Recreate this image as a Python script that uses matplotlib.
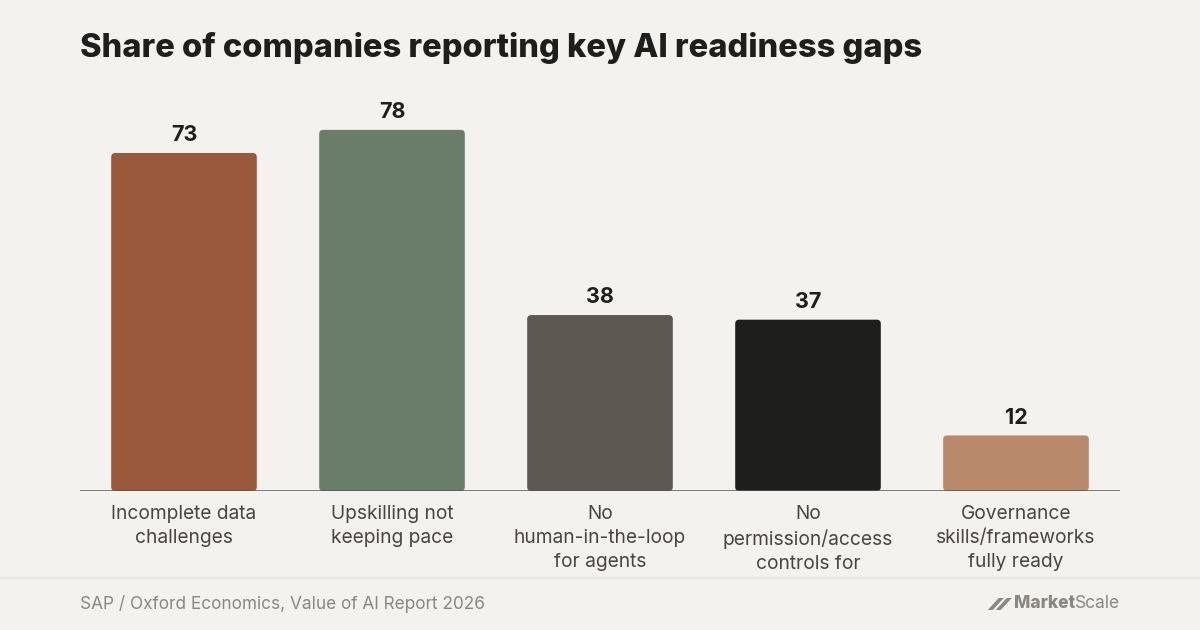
import matplotlib
matplotlib.use("Agg")
import matplotlib.pyplot as plt
from matplotlib.patches import FancyBboxPatch, Polygon
from matplotlib.lines import Line2D

categories = ["Incomplete data\nchallenges", "Upskilling not\nkeeping pace",
              "No\nhuman-in-the-loop\nfor agents", "No\npermission/access\ncontrols for",
              "Governance\nskills/frameworks\nfully ready"]
values = [73, 78, 38, 37, 12]
colors = ["#9a593c", "#6a7c6a", "#5d5851", "#1e1e1c", "#b8896b"]

title = "Share of companies reporting key AI readiness gaps"
source = "SAP / Oxford Economics, Value of AI Report 2026"

BG = "#f4f2ee"
W, H = 1200, 630
fig = plt.figure(figsize=(12, 6.3), dpi=100, facecolor=BG)
plt.rcParams['font.family'] = ['Inter', 'DejaVu Sans']

# axes: x 80..1120 px, baseline at y=491 px, 4.63 px per unit
left, right = 80, 1120
base_y = 491
top_y = 100
ppu = 4.63
ymax = (base_y - top_y) / ppu
ax = fig.add_axes([left / W, (H - base_y) / H, (right - left) / W, (base_y - top_y) / H])
ax.set_facecolor(BG)
ax.set_xlim(-0.5, len(values) - 0.5)
ax.set_ylim(0, ymax)
for s in ax.spines.values():
    s.set_visible(False)
ax.set_yticks([])
ax.set_xticks(range(len(values)))
ax.set_xticklabels(categories, fontsize=13.8, color="#4a4540", linespacing=1.42)
ax.tick_params(axis='x', length=0, pad=10)

bw = 0.70
xpx_per_unit = (right - left) / len(values)
aspect = xpx_per_unit / ppu
r = 4 / xpx_per_unit
bars = ax.bar(range(len(values)), values, width=bw, color="none")
for b, c in zip(bars, colors):
    p = FancyBboxPatch((b.get_x(), b.get_y()), b.get_width(), b.get_height(),
                       boxstyle=f"round,pad=0,rounding_size={r}",
                       mutation_aspect=aspect, facecolor=c, edgecolor="none", zorder=2)
    ax.add_patch(p)
    ax.text(b.get_x() + b.get_width() / 2, b.get_height() + 14 / ppu * 0.55,
            f"{int(b.get_height())}", ha="center", va="bottom",
            fontsize=15.5, fontweight="bold", color="#1e1e1c")
ax.axhline(0, color="#5a5550", lw=1.8, zorder=3)

fig.text(80 / W, 1 - 48 / H, title, fontsize=23.5, fontweight="heavy",
         color="#1e1e1c", ha="left", va="center")

fig.add_artist(Line2D([0, 1], [1 - 578 / H] * 2, color="#e7e4df", lw=1.5,
                      transform=fig.transFigure))
fig.text(80 / W, 1 - 604 / H, source, fontsize=12.4, color="#8b8782",
         ha="left", va="center")

# MarketScale logo
t2 = fig.text(1120 / W, 1 - 604 / H, "Scale", fontsize=12.5, color="#8b8782",
              ha="right", va="center")
fig.canvas.draw()
bb = t2.get_window_extent()
t1 = fig.text(bb.x0 / W, 1 - 604 / H, "Market", fontsize=12.5, fontweight="heavy",
              color="#8b8782", ha="right", va="center")
fig.canvas.draw()
bb1 = t1.get_window_extent()
x0 = bb1.x0 - 2
yc = H - 604
ys, ye = yc - 6, yc + 6
for dx in (0, 8):
    poly = Polygon([[(x0 - 24 + dx) / W, ys / H], [(x0 - 19 + dx) / W, ys / H],
                    [(x0 - 8 + dx) / W, ye / H], [(x0 - 13 + dx) / W, ye / H]],
                   closed=True, transform=fig.transFigure, facecolor="#8b8782", edgecolor="none")
    fig.add_artist(poly)

fig.savefig("out.png", dpi=100, facecolor=BG)
